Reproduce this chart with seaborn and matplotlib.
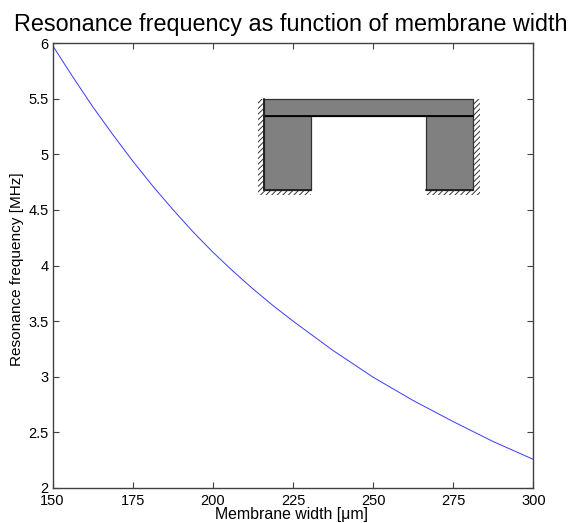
import matplotlib
matplotlib.use("Agg")
import matplotlib.pyplot as plt
from matplotlib.patches import Rectangle
import pandas as pd
import seaborn as sns

membrane_width = [150, 156.25, 162.5, 168.75, 175, 181.25, 187.5, 193.75, 200, 206.25, 212.5, 218.75,
                  225, 237.5, 250, 262.5, 275, 287.5, 300]
resonance_freq = [5.98, 5.70, 5.43, 5.18, 4.94, 4.715, 4.505, 4.305, 4.12, 3.95, 3.79, 3.64,
                  3.50, 3.235, 2.995, 2.785, 2.595, 2.415, 2.255]
x_ticks = [150, 175, 200, 225, 250, 275, 300]
y_ticks = [2, 2.5, 3, 3.5, 4, 4.5, 5, 5.5, 6]
y_tick_labels = ["2", "2.5", "3", "3.5", "4", "4.5", "5", "5.5", "6"]

W, H = 574, 523
sns.set_theme(style="white")
plt.rcParams["font.family"] = ["Liberation Sans", "DejaVu Sans"]
plt.rcParams["hatch.linewidth"] = 0.7

fig = plt.figure(figsize=(W / 100, H / 100), dpi=100)
L, R, T, B = 52.6, 533.3, 43.3, 487.7
ax = fig.add_axes([L / W, 1 - B / H, (R - L) / W, (B - T) / H])

df = pd.DataFrame({"width": membrane_width, "freq": resonance_freq})
sns.lineplot(data=df, x="width", y="freq", ax=ax, color="#3a3aff", lw=0.7, errorbar=None)

ax.set_xlim(150, 300)
ax.set_ylim(2, 6)
ax.set_xticks(x_ticks)
ax.set_yticks(y_ticks)
ax.set_yticklabels(y_tick_labels)
ax.tick_params(axis="both", direction="in", length=4.5, width=0.8, color="#404040",
               labelsize=10.5, labelcolor="black", top=True, right=True, bottom=True, left=True)
ax.tick_params(axis="x", pad=4.5)
ax.tick_params(axis="y", pad=3)
for s in ax.spines.values():
    s.set_color("#404040")
    s.set_linewidth(1.0)
    s.set_visible(True)

ax.set_xlabel("")
ax.set_ylabel("")
fig.text(291 / W, 1 - 514.5 / H, "Membrane width [\u03bcm]", fontsize=11.4, ha="center", va="center", color="black")
fig.text(17 / W, 1 - 269 / H, "Resonance frequency [MHz]", fontsize=11.1, rotation=90, ha="center", va="center", color="black")
fig.text(290.5 / W, 1 - 24 / H, "Resonance frequency as function of membrane width",
         fontsize=16.85, ha="center", va="center", color="black")

# schematic inset, in pixel coordinates of the picture
ov = fig.add_axes([0, 0, 1, 1], facecolor="none")
ov.set_xlim(0, W)
ov.set_ylim(H, 0)
ov.axis("off")

for x, y, w, h in [(258, 99, 6, 96), (473.3, 99, 6.5, 96), (258, 190, 53, 5), (426, 190, 54, 5)]:
    ov.add_patch(Rectangle((x, y), w, h, facecolor="white", edgecolor="#333333", hatch="//////", lw=0))
for x, y, w, h in [(264, 99.3, 209.3, 17), (264, 116.3, 46.7, 73.7), (426, 116.3, 47.3, 73.7)]:
    ov.add_patch(Rectangle((x, y), w, h, facecolor="#808080", edgecolor="#333333", lw=0.9))
ov.plot([264, 473.3], [116.3, 116.3], color="black", lw=1.3)
ov.plot([264, 264], [99.3, 190], color="#222222", lw=1.4)
ov.plot([264, 311], [190, 190], color="#222222", lw=1.4)
ov.plot([426, 473.3], [190, 190], color="#222222", lw=1.4)

fig.savefig("out.png", dpi=100, facecolor="white")
